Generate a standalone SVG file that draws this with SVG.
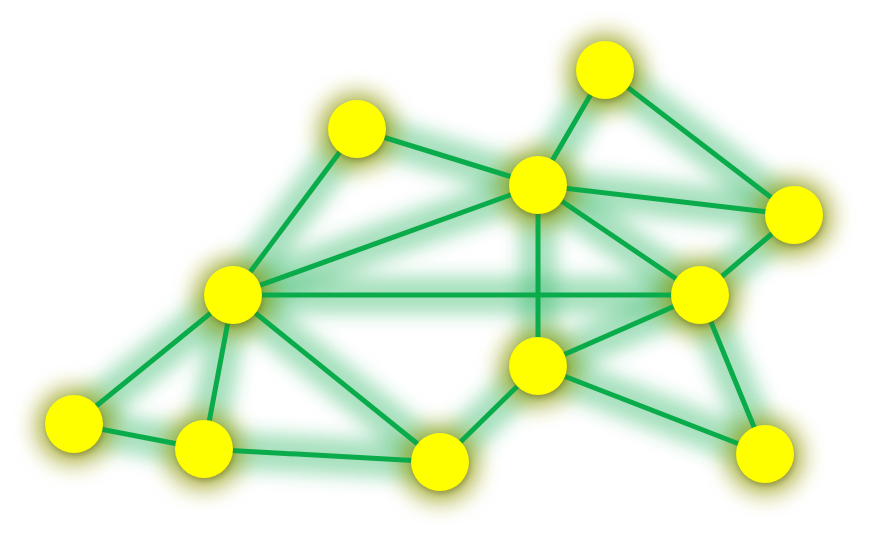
<svg xmlns="http://www.w3.org/2000/svg" width="869" height="540" viewBox="0 0 869 540">
<defs>
<filter id="blurE" x="-20%" y="-20%" width="140%" height="140%"><feGaussianBlur stdDeviation="9"/></filter>
<filter id="blurN" x="-60%" y="-60%" width="220%" height="220%"><feGaussianBlur stdDeviation="10"/></filter>
<filter id="shadow" x="-50%" y="-50%" width="200%" height="200%"><feGaussianBlur stdDeviation="2.5"/></filter>
<style>
.glow line{stroke:#3dbb70;stroke-width:38;stroke-linecap:round;opacity:0.45}
.edges line{stroke:#0aab4a;stroke-width:5;stroke-linecap:round}
.halo{fill:#a0a420;opacity:0.7}
.sh{fill:#606010;opacity:0.4}
.node circle.n{fill:#ffff00}
</style>
</defs>
<rect width="869" height="540" fill="#ffffff"/>
<g class="glow" filter="url(#blurE)">
<line x1="357" y1="129" x2="538" y2="185"/>
<line x1="357" y1="129" x2="233" y2="295"/>
<line x1="605" y1="70" x2="538" y2="185"/>
<line x1="605" y1="70" x2="794" y2="215"/>
<line x1="538" y1="185" x2="794" y2="215"/>
<line x1="538" y1="185" x2="233" y2="295"/>
<line x1="538" y1="185" x2="700" y2="295"/>
<line x1="538" y1="185" x2="538" y2="366"/>
<line x1="794" y1="215" x2="700" y2="295"/>
<line x1="233" y1="295" x2="700" y2="295"/>
<line x1="233" y1="295" x2="74" y2="424"/>
<line x1="233" y1="295" x2="204" y2="449"/>
<line x1="233" y1="295" x2="440" y2="462"/>
<line x1="74" y1="424" x2="204" y2="449"/>
<line x1="204" y1="449" x2="440" y2="462"/>
<line x1="440" y1="462" x2="538" y2="366"/>
<line x1="538" y1="366" x2="700" y2="295"/>
<line x1="538" y1="366" x2="765" y2="454"/>
<line x1="700" y1="295" x2="765" y2="454"/>
</g>
<g class="halos" filter="url(#blurN)">
<circle class="halo" cx="357" cy="131" r="40"/>
<circle class="halo" cx="605" cy="72" r="40"/>
<circle class="halo" cx="538" cy="187" r="40"/>
<circle class="halo" cx="794" cy="217" r="40"/>
<circle class="halo" cx="233" cy="297" r="40"/>
<circle class="halo" cx="700" cy="297" r="40"/>
<circle class="halo" cx="538" cy="368" r="40"/>
<circle class="halo" cx="74" cy="426" r="40"/>
<circle class="halo" cx="204" cy="451" r="40"/>
<circle class="halo" cx="440" cy="464" r="40"/>
<circle class="halo" cx="765" cy="456" r="40"/>
</g>
<g class="edges" id="connectors">
<line x1="357" y1="129" x2="538" y2="185"/>
<line x1="357" y1="129" x2="233" y2="295"/>
<line x1="605" y1="70" x2="538" y2="185"/>
<line x1="605" y1="70" x2="794" y2="215"/>
<line x1="538" y1="185" x2="794" y2="215"/>
<line x1="538" y1="185" x2="233" y2="295"/>
<line x1="538" y1="185" x2="700" y2="295"/>
<line x1="538" y1="185" x2="538" y2="366"/>
<line x1="794" y1="215" x2="700" y2="295"/>
<line x1="233" y1="295" x2="700" y2="295"/>
<line x1="233" y1="295" x2="74" y2="424"/>
<line x1="233" y1="295" x2="204" y2="449"/>
<line x1="233" y1="295" x2="440" y2="462"/>
<line x1="74" y1="424" x2="204" y2="449"/>
<line x1="204" y1="449" x2="440" y2="462"/>
<line x1="440" y1="462" x2="538" y2="366"/>
<line x1="538" y1="366" x2="700" y2="295"/>
<line x1="538" y1="366" x2="765" y2="454"/>
<line x1="700" y1="295" x2="765" y2="454"/>
</g>
<g id="nA" class="node"><circle class="sh" cx="358" cy="132" r="29" filter="url(#shadow)"/><circle class="n" cx="357" cy="129" r="29"/></g>
<g id="nB" class="node"><circle class="sh" cx="606" cy="73" r="29" filter="url(#shadow)"/><circle class="n" cx="605" cy="70" r="29"/></g>
<g id="nC" class="node"><circle class="sh" cx="539" cy="188" r="29" filter="url(#shadow)"/><circle class="n" cx="538" cy="185" r="29"/></g>
<g id="nD" class="node"><circle class="sh" cx="795" cy="218" r="29" filter="url(#shadow)"/><circle class="n" cx="794" cy="215" r="29"/></g>
<g id="nE" class="node"><circle class="sh" cx="234" cy="298" r="29" filter="url(#shadow)"/><circle class="n" cx="233" cy="295" r="29"/></g>
<g id="nF" class="node"><circle class="sh" cx="701" cy="298" r="29" filter="url(#shadow)"/><circle class="n" cx="700" cy="295" r="29"/></g>
<g id="nG" class="node"><circle class="sh" cx="539" cy="369" r="29" filter="url(#shadow)"/><circle class="n" cx="538" cy="366" r="29"/></g>
<g id="nH" class="node"><circle class="sh" cx="75" cy="427" r="29" filter="url(#shadow)"/><circle class="n" cx="74" cy="424" r="29"/></g>
<g id="nI" class="node"><circle class="sh" cx="205" cy="452" r="29" filter="url(#shadow)"/><circle class="n" cx="204" cy="449" r="29"/></g>
<g id="nJ" class="node"><circle class="sh" cx="441" cy="465" r="29" filter="url(#shadow)"/><circle class="n" cx="440" cy="462" r="29"/></g>
<g id="nK" class="node"><circle class="sh" cx="766" cy="457" r="29" filter="url(#shadow)"/><circle class="n" cx="765" cy="454" r="29"/></g>
</svg>
